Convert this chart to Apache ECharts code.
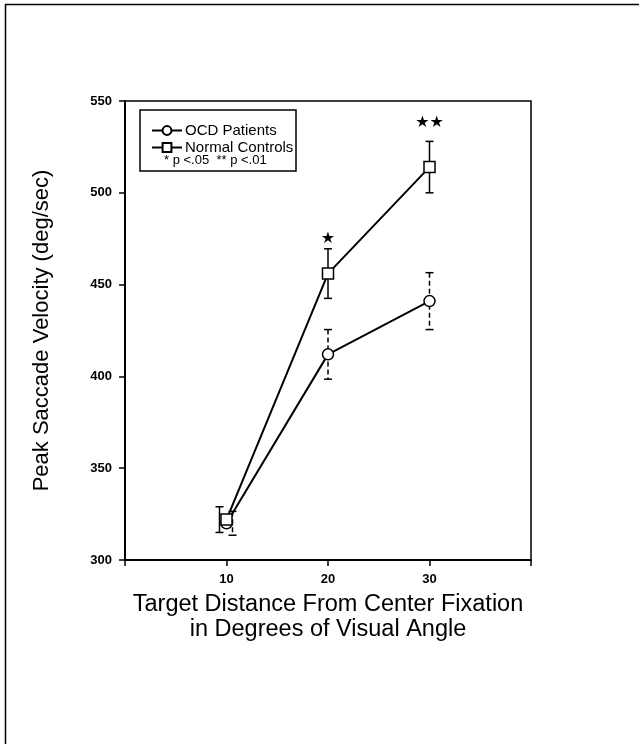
<!DOCTYPE html>
<html>
<head>
<meta charset="utf-8">
<script src="https://cdn.jsdelivr.net/npm/echarts@6/dist/echarts.min.js"></script>
<style>html,body{margin:0;padding:0;background:#fff;}#c{width:639px;height:744px;}</style>
</head>
<body>
<div id="c"></div>
<script>
// ---- data ----
const xValues = [10, 20, 30];
const xTickLabels = ['10', '20', '30'];
const ocdMean = [320, 412, 441];
const ocdErr = [6.5, 13.5, 15.5];
const ctrlMean = [322, 456, 514];
const ctrlErr = [7, 13.5, 14];
const sigLabels = ['', '★', '★★'];
const sigValues = [null, 475, 538];
const seriesNames = ['OCD Patients', 'Normal Controls'];
const noteText = '* p <.05  ** p <.01';

// ---- style ----
const ocdShift = [6, 0, 0];
const ctrlShift = [-7, 0, 0];
const FONT = '"Liberation Sans", Arial, sans-serif';

function pairs(xs, ys) { return xs.map((x, i) => [x, ys[i]]); }
function errData(xs, m, e) { return xs.map((x, i) => [x, m[i] - e[i], m[i] + e[i]]); }

function errRender(dashed, shifts) {
  return function (params, api) {
    const x = api.value(0), lo = api.value(1), hi = api.value(2);
    const p1 = api.coord([x, hi]), p2 = api.coord([x, lo]);
    const cx = p1[0] + (shifts[params.dataIndex] || 0), w = 4;
    const st = { stroke: '#000', lineWidth: 1.5 };
    return {
      type: 'group',
      children: [
        { type: 'line', shape: { x1: cx, y1: p1[1], x2: cx, y2: p2[1] },
          style: Object.assign({}, st, dashed ? { lineDash: [5, 3] } : {}) },
        { type: 'line', shape: { x1: cx - w, y1: p1[1], x2: cx + w, y2: p1[1] }, style: st },
        { type: 'line', shape: { x1: cx - w, y1: p2[1], x2: cx + w, y2: p2[1] }, style: st }
      ]
    };
  };
}

function sigRender(params, api) {
  const i = params.dataIndex;
  if (!sigLabels[i]) return null;
  const p = api.coord([api.value(0), api.value(1)]);
  return {
    type: 'text',
    style: {
      x: p[0], y: p[1], text: sigLabels[i], align: 'center', verticalAlign: 'middle',
      fontSize: 16, fill: '#000', fontFamily: '"DejaVu Sans", sans-serif'
    }
  };
}

const chart = echarts.init(document.getElementById('c'), null, { renderer: 'canvas' });
chart.setOption({
  backgroundColor: '#fff',
  animation: false,
  textStyle: { fontFamily: FONT },
  grid: { left: 125, right: 108, top: 101, bottom: 184, show: true, borderColor: '#000', borderWidth: 1.5 },
  xAxis: {
    type: 'value', min: 0, max: 40, interval: 10,
    axisLine: { lineStyle: { color: '#000', width: 2 } },
    axisTick: { length: 6, lineStyle: { color: '#000', width: 1.5 } },
    splitLine: { show: false },
    axisLabel: {
      margin: 13, color: '#000', fontSize: 13, fontWeight: 'bold', fontFamily: FONT,
      formatter: v => { const i = xValues.indexOf(v); return i >= 0 ? xTickLabels[i] : ''; }
    },
    name: 'Target Distance From Center Fixation\nin Degrees of Visual Angle',
    nameLocation: 'middle', nameGap: 32,
    nameTextStyle: { fontSize: 23.5, color: '#000', lineHeight: 25, fontFamily: FONT, verticalAlign: 'top' }
  },
  yAxis: {
    type: 'value', min: 300, max: 550, interval: 50,
    axisLine: { lineStyle: { color: '#000', width: 2 } },
    axisTick: { show: true, length: 6, lineStyle: { color: '#000', width: 1.5 } },
    splitLine: { show: false },
    axisLabel: { margin: 13, color: '#000', fontSize: 13, fontWeight: 'bold', fontFamily: FONT },
    name: 'Peak Saccade Velocity (deg/sec)',
    nameLocation: 'middle', nameGap: 72,
    nameTextStyle: { fontSize: 22, color: '#000', fontFamily: FONT }
  },
  legend: {
    left: 146, top: 117, orient: 'vertical', itemGap: 0,
    itemWidth: 30, itemHeight: 11,
    data: seriesNames,
    textStyle: { fontSize: 15, color: '#000', fontFamily: FONT, padding: [0, 0, 0, -2], lineHeight: 17 }
  },
  graphic: [
    { type: 'line', shape: { x1: 5, y1: 4.5, x2: 639, y2: 4.5 }, style: { stroke: '#000', lineWidth: 1.5 } },
    { type: 'line', shape: { x1: 5.5, y1: 4, x2: 5.5, y2: 744 }, style: { stroke: '#000', lineWidth: 1.5 } },
    { type: 'rect', shape: { x: 140, y: 110, width: 156, height: 61 }, style: { fill: 'none', stroke: '#000', lineWidth: 1.5 } },
    { type: 'text', left: 164, top: 154, style: { text: noteText, fontSize: 13, fill: '#000', fontFamily: FONT } }
  ],
  series: [
    { type: 'custom', name: 'ocdErr', renderItem: errRender(true, ocdShift), data: errData(xValues, ocdMean, ocdErr), z: 1, silent: true },
    { type: 'custom', name: 'ctrlErr', renderItem: errRender(false, ctrlShift), data: errData(xValues, ctrlMean, ctrlErr), z: 1, silent: true },
    {
      type: 'line', name: seriesNames[0], data: pairs(xValues, ocdMean), z: 3,
      symbol: 'circle', symbolSize: 11,
      lineStyle: { color: '#000', width: 2 },
      itemStyle: { color: '#fff', borderColor: '#000', borderWidth: 1.5 }
    },
    {
      type: 'line', name: seriesNames[1], data: pairs(xValues, ctrlMean), z: 4,
      symbol: 'rect', symbolSize: 11,
      lineStyle: { color: '#000', width: 2 },
      itemStyle: { color: '#fff', borderColor: '#000', borderWidth: 1.5 }
    },
    {
      type: 'custom', name: 'sig', z: 5, silent: true, renderItem: sigRender,
      data: xValues.map((x, i) => [x, sigValues[i] === null ? 0 : sigValues[i]])
    }
  ]
});
</script>
</body>
</html>
